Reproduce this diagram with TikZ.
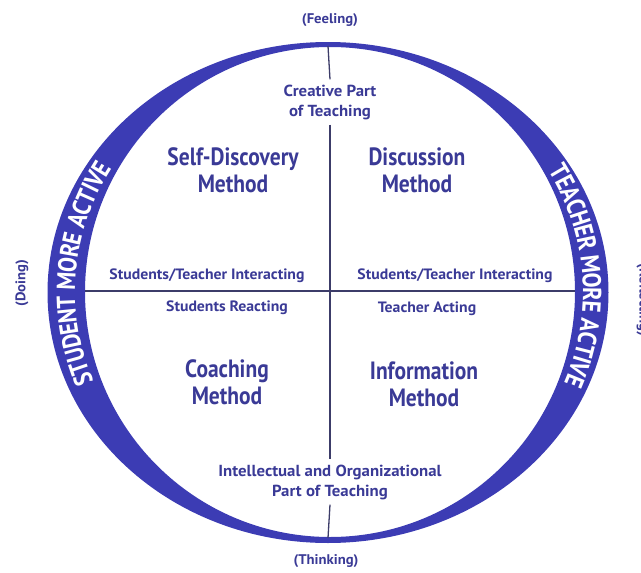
\documentclass[tikz,border=0pt]{standalone}
\usepackage{fontspec}
\setmainfont{PT Sans}[FakeStretch=0.86]
\newfontfamily\wideft{PT Sans}[FakeStretch=1.05]
\usetikzlibrary{decorations.text}
\definecolor{ringblue}{RGB}{60,60,180}
\definecolor{inkblue}{RGB}{58,58,150}
\definecolor{linegray}{RGB}{60,60,105}
\tikzset{
  lbl/.style={text=inkblue, font=\wideft\bfseries\fontsize{15}{19}\selectfont, inner sep=4pt, align=center},
  midlbl/.style={text=inkblue, font=\wideft\bfseries\fontsize{16}{20}\selectfont, inner sep=5pt, align=center},
  meth/.style={text=inkblue, font=\bfseries\fontsize{25}{27}\selectfont, inner sep=2pt, align=center},
  side/.style={text=inkblue, font=\wideft\bfseries\fontsize{14}{16}\selectfont, inner sep=1pt},
  divider/.style={draw=linegray, line width=1.3pt},
  ringtext/.style={decorate, decoration={text along path, text align=center, raise=-9pt,
      text={|\color{white}\bfseries\fontsize{26}{28}\selectfont|#1}}}
}
\begin{document}
\begin{tikzpicture}[x=1pt,y=-1pt]
\useasboundingbox (0,0) rectangle (641,573);
\clip (0,0) rectangle (641,573);
% ring
\fill[ringblue, even odd rule] (328,292.5) ellipse[x radius=280.5, y radius=250.5]
      (330,292) ellipse[x radius=245, y radius=245];
% ring texts
\path[ringtext={STUDENT MORE ACTIVE}] (329,292) ++(145:263 and 248)
   arc[start angle=145, end angle=224, x radius=263, y radius=248];
\path[ringtext={TEACHER MORE ACTIVE}] (329,292) ++(-45:263 and 248)
   arc[start angle=-45, end angle=37, x radius=263, y radius=248];
% coordinates
\coordinate (top) at (328,46);
\coordinate (bottom) at (328,538);
\coordinate (left) at (85,291);
\coordinate (right) at (575,291);
% texts
\node[side] (feeling) at (330,20) {(Feeling)};
\node[side] (thinking) at (326,561) {(Thinking)};
\node[side, rotate=90] (doing) at (22,283) {(Doing)};
\node[side, rotate=-90] (reflecting) at (643,300) {(Reflecting)};
\node[midlbl] (creative) at (330,102) {Creative Part\\of Teaching};
\node[midlbl] (intellectual) at (330,482) {Intellectual and Organizational\\Part of Teaching};
\node[meth] (selfdisc) at (233,170) {Self-Discovery\\Method};
\node[meth] (discussion) at (417,170) {Discussion\\Method};
\node[meth] (coaching) at (227,382) {Coaching\\Method};
\node[meth] (information) at (424,384) {Information\\Method};
\node[lbl] (sti1) at (207,276) {Students/Teacher Interacting};
\node[lbl] (sti2) at (455,276) {Students/Teacher Interacting};
\node[lbl] (sreact) at (227,308) {Students Reacting};
\node[lbl] (tact) at (427,309) {Teacher Acting};
% dividers
\draw[divider] (top) -- (creative.north);
\draw[divider] (creative.south) -- (intellectual.north);
\draw[divider] (intellectual.south) -- (bottom);
\draw[divider] (left) -- (right);
\end{tikzpicture}
\end{document}
